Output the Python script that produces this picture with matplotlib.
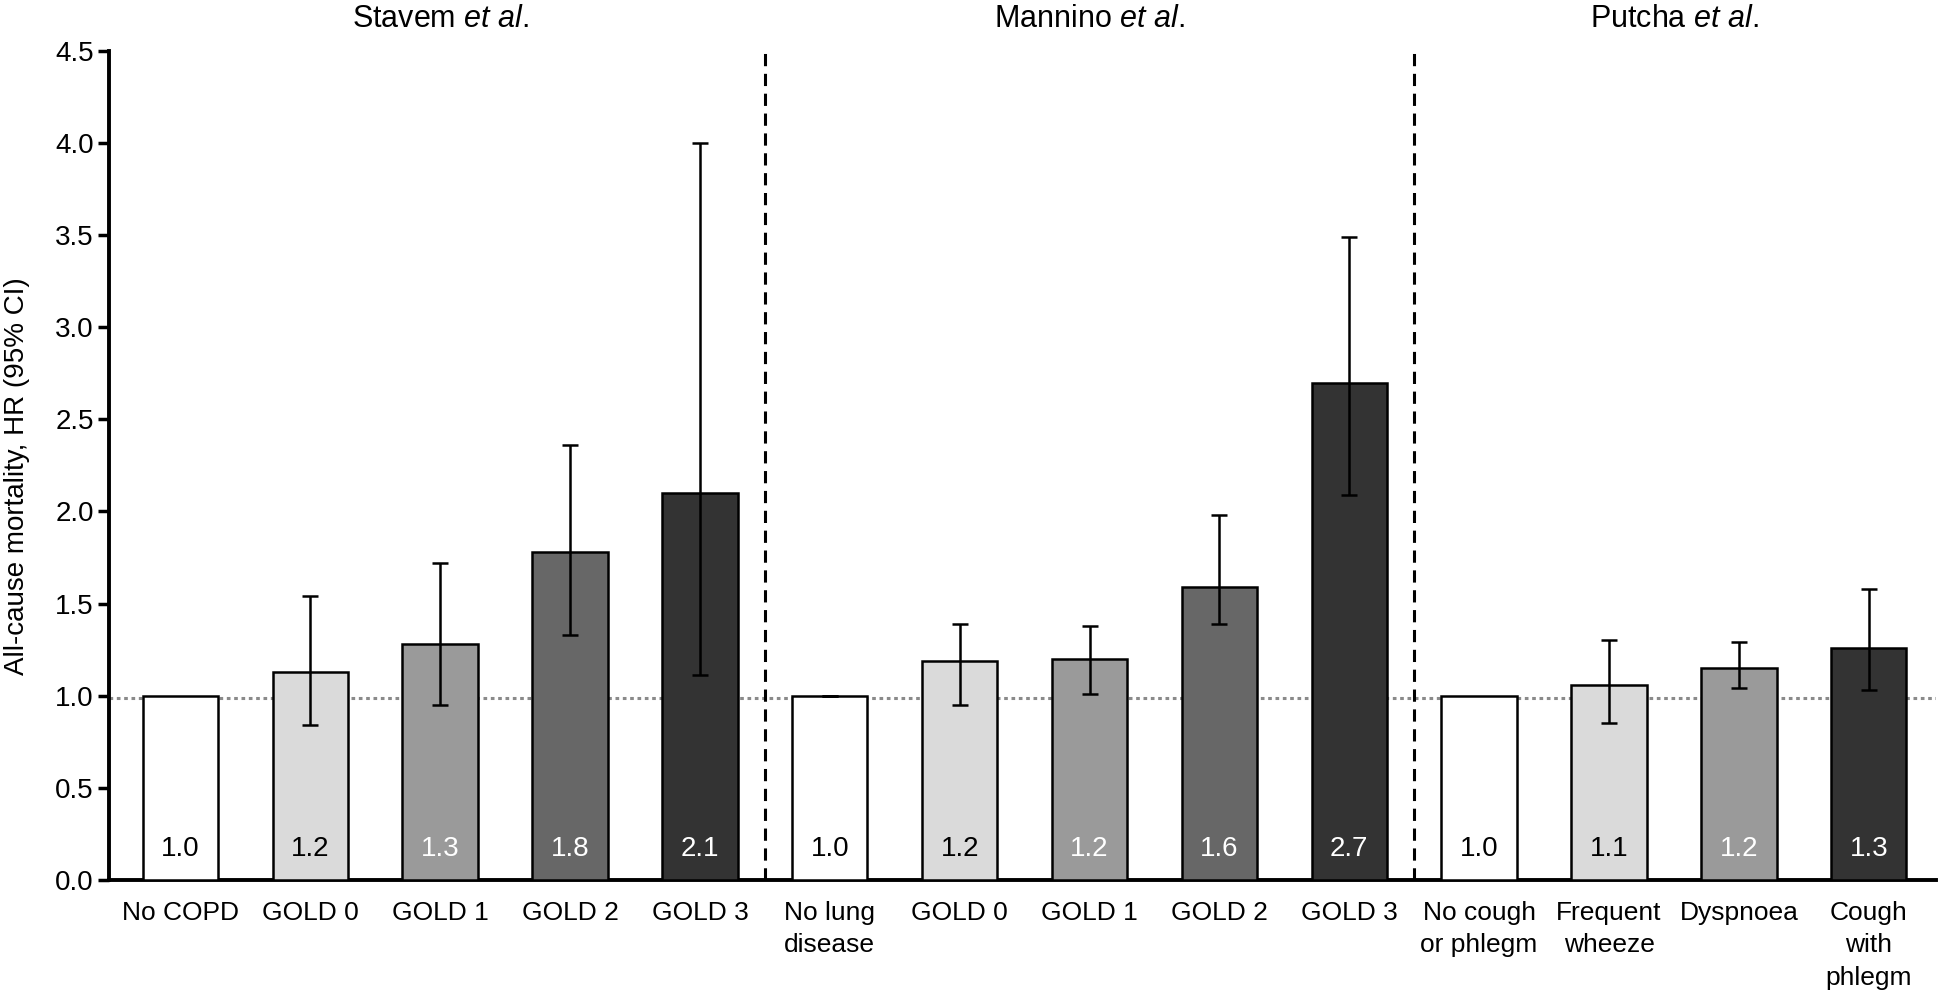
import numpy as np
import matplotlib
matplotlib.use("Agg")
import matplotlib.pyplot as plt

plt.rcParams["font.family"] = ["Liberation Sans", "DejaVu Sans"]
plt.rcParams["mathtext.fontset"] = "custom"
plt.rcParams["mathtext.rm"] = "Liberation Sans"
plt.rcParams["mathtext.it"] = "Liberation Sans:italic"

# Data
categories = ["No COPD", "GOLD 0", "GOLD 1", "GOLD 2", "GOLD 3",
              "No lung\ndisease", "GOLD 0", "GOLD 1", "GOLD 2", "GOLD 3",
              "No cough\nor phlegm", "Frequent\nwheeze", "Dyspnoea", "Cough\nwith\nphlegm"]
hr = [1.00, 1.13, 1.28, 1.78, 2.10,
      1.00, 1.19, 1.20, 1.59, 2.70,
      1.00, 1.06, 1.15, 1.26]
ci_low = [np.nan, 0.84, 0.95, 1.33, 1.11,
          1.00, 0.95, 1.01, 1.39, 2.09,
          np.nan, 0.85, 1.04, 1.03]
ci_high = [np.nan, 1.54, 1.72, 2.36, 4.00,
           1.00, 1.39, 1.38, 1.98, 3.49,
           np.nan, 1.30, 1.29, 1.58]
value_labels = ["1.0", "1.2", "1.3", "1.8", "2.1",
                "1.0", "1.2", "1.2", "1.6", "2.7",
                "1.0", "1.1", "1.2", "1.3"]
studies = ["Stavem", "Mannino", "Putcha"]
group_sizes = [5, 5, 4]

# grey shades per bar
shade = {"w": "#ffffff", "l": "#dadada", "m": "#9a9a9a", "d": "#676767", "k": "#333333"}
fill_keys = ["w", "l", "m", "d", "k",
             "w", "l", "m", "d", "k",
             "w", "l", "m", "k"]

fig = plt.figure(figsize=(19.46, 10.02), dpi=100)
ax = fig.add_axes([0.056, 0.122, 0.939, 0.827])

x = np.arange(len(categories))
colors = [shade[k] for k in fill_keys]
ax.bar(x, hr, width=0.58, color=colors, edgecolor="black", linewidth=1.8, zorder=3)

# error bars
lo = np.array(ci_low)
hi = np.array(ci_high)
h = np.array(hr)
has_ci = ~np.isnan(lo)
ax.errorbar(x[has_ci], h[has_ci],
            yerr=[h[has_ci] - lo[has_ci], hi[has_ci] - h[has_ci]],
            fmt="none", ecolor="black", elinewidth=1.8, capsize=6, capthick=1.8, zorder=4)

# values inside bars
for xi, lab, k in zip(x, value_labels, fill_keys):
    txt_col = "black" if k in ("w", "l") else "white"
    ax.text(xi, 0.165, lab, ha="center", va="center", fontsize=20, color=txt_col, zorder=5)

# reference line at HR = 1
ax.axhline(0.985, color="#8a8a8a", linestyle=(0, (1.2, 1.2)), linewidth=2.2, zorder=1)

# group separators and study titles
bounds = np.cumsum(group_sizes)
for b in bounds[:-1]:
    ax.axvline(b - 0.5, ymin=0, ymax=1.005, color="black", linestyle=(0, (4, 2.5)),
               linewidth=2.2, clip_on=False, zorder=2)
starts = np.concatenate([[0], bounds[:-1]])
for name, s, n in zip(studies, starts, group_sizes):
    cx = s + (n - 1) / 2
    ax.annotate(name + r" $\it{et\ al.}$", xy=(cx, 1.0), xycoords=("data", "axes fraction"),
                xytext=(0, 23), textcoords="offset points", ha="center", va="center",
                fontsize=22)

ax.set_xlim(-0.55, len(categories) - 0.48)
ax.set_ylim(0, 4.5)
ax.set_yticks(np.arange(0, 4.51, 0.5))
ax.set_yticklabels([f"{v:.1f}" for v in np.arange(0, 4.51, 0.5)])
ax.set_xticks(x)
ax.set_xticklabels(categories, linespacing=1.45)

for side in ("top", "right"):
    ax.spines[side].set_visible(False)
for side in ("left", "bottom"):
    ax.spines[side].set_linewidth(2.8)
ax.tick_params(axis="y", direction="out", length=8, width=2.5, labelsize=20, pad=3)
ax.tick_params(axis="x", length=0, labelsize=19, pad=15)

fig.text(0.0085, 0.525, "All-cause mortality, HR (95% CI)", rotation=90,
         ha="center", va="center", fontsize=20)

fig.savefig("out.png", dpi=100)
